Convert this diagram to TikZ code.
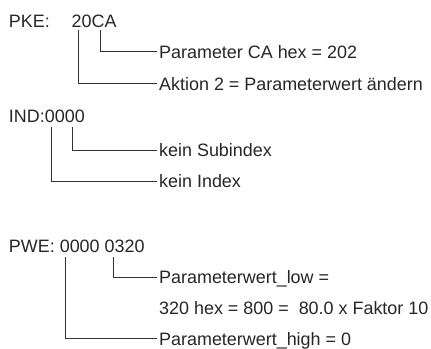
\documentclass[tikz,border=0pt]{standalone}
\usepackage{fontspec}
\setmainfont{Liberation Sans}
\usepackage{tikz}

\tikzset{
	txt/.style={anchor=west, inner sep=0pt, text height=13bp, text depth=0pt, text=black!85},
	lbl/.style={txt, inner xsep=2.5bp},
	leg/.style={draw=black!80, line width=0.8bp}
}

\begin{document}
\begin{tikzpicture}[x=1bp, y=-1bp, font=\fontsize{18}{20}\selectfont]
			\useasboundingbox (0,0) rectangle (431,349);
			% PKE
			\node[txt] (pke) at (8.8,20.8) {PKE:};
			\node[txt] (pkeval) at (71.5,20.8) {20CA};
			\coordinate (pkeA) at (78.3,30);
			\coordinate (pkeB) at (100,30);
			\node[lbl] (param) at (156.5,51.5) {Parameter CA hex = 202};
			\node[lbl] (aktion) at (156.5,83.5) {Aktion 2 = Parameterwert ändern};
			\draw[leg] (pkeB) |- (param.west);
			\draw[leg] (pkeA) |- (aktion.west);
			% IND
			\node[txt] (ind) at (8.8,116.2) {IND:0000};
			\coordinate (indA) at (51.7,127);
			\coordinate (indB) at (72.3,127);
			\node[lbl] (subidx) at (156.5,150) {kein Subindex};
			\node[lbl] (idx) at (156.5,181) {kein Index};
			\draw[leg] (indB) |- (subidx.west);
			\draw[leg] (indA) |- (idx.west);
			% PWE
			\node[txt] (pwe) at (8.8,246.2) {PWE: 0000 0320};
			\coordinate (pweA) at (65.7,257);
			\coordinate (pweB) at (113.3,257);
			\node[lbl] (low) at (156.5,277) {Parameterwert\_low =};
			\node[lbl] (hex) at (156.5,308) {320 hex = 800 =\ \ 80.0 x Faktor 10};
			\node[lbl] (high) at (156.5,338.5) {Parameterwert\_high = 0};
			\draw[leg] (pweB) |- (low.west);
			\draw[leg] (pweA) |- (high.west);
		\end{tikzpicture}
\end{document}
